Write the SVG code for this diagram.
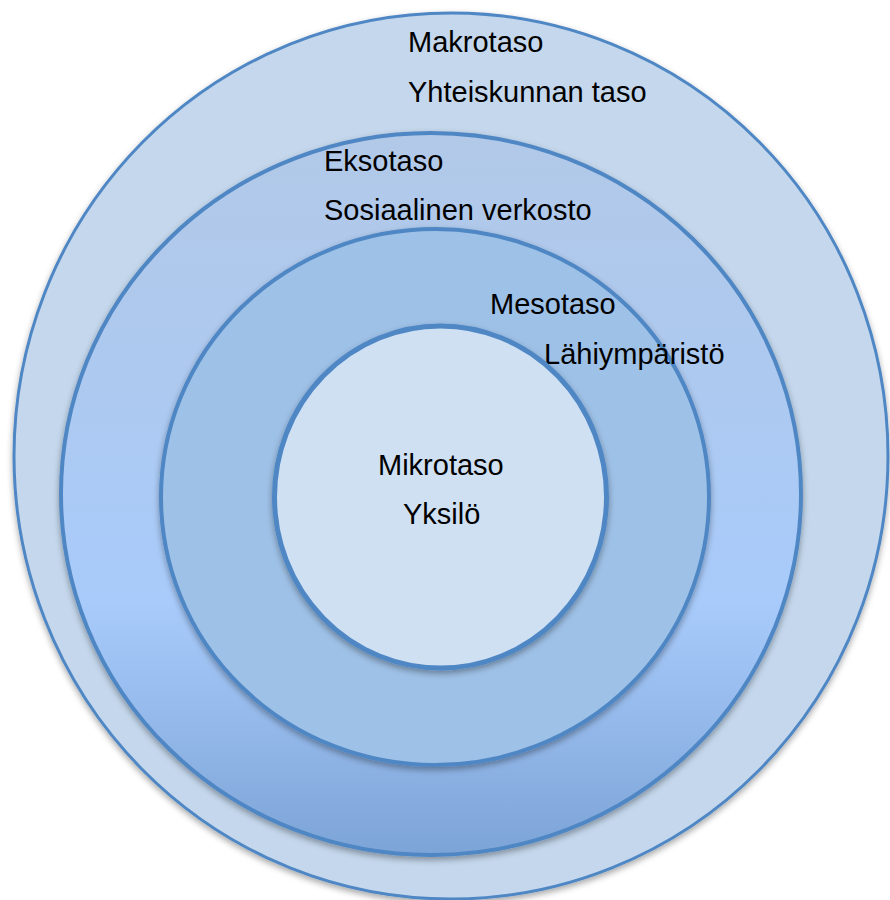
<svg xmlns="http://www.w3.org/2000/svg" width="890" height="900" viewBox="0 0 890 900">
  <defs>
    <linearGradient id="ekso" x1="0" y1="0" x2="0" y2="1">
      <stop offset="0" stop-color="#B2C9E8"/>
      <stop offset="0.35" stop-color="#ADC9F0"/>
      <stop offset="0.65" stop-color="#A8CBFB"/>
      <stop offset="1" stop-color="#7DA4D7"/>
    </linearGradient>
    <filter id="sh" x="-10%" y="-10%" width="120%" height="125%">
      <feDropShadow dx="0" dy="3" stdDeviation="3" flood-color="#000" flood-opacity="0.35"/>
    </filter>
    <style>
      .ring { stroke: #4F87C5; filter: url(#sh); }
      .lbl { font-family: "Liberation Sans", Arial, sans-serif; font-size: 29px; fill: #000; }
    </style>
  </defs>
  <rect width="890" height="900" fill="#FFFFFF"/>
  <g id="makrotaso">
    <ellipse class="ring" cx="451" cy="456" rx="437" ry="443" fill="#C4D7EC" stroke-width="3"/>
    <text class="lbl" x="408" y="52">Makrotaso</text>
    <text class="lbl" x="408" y="102">Yhteiskunnan taso</text>
  </g>
  <g id="eksotaso">
    <ellipse class="ring" cx="431" cy="494" rx="370" ry="361" fill="url(#ekso)" stroke-width="4"/>
    <text class="lbl" x="324" y="171">Eksotaso</text>
    <text class="lbl" x="324" y="220">Sosiaalinen verkosto</text>
  </g>
  <g id="mesotaso">
    <ellipse class="ring" cx="435" cy="497" rx="274" ry="268" fill="#9EC1E7" stroke-width="4"/>
    <text class="lbl" x="490" y="314">Mesotaso</text>
    <text class="lbl" x="544" y="364">Lähiympäristö</text>
  </g>
  <g id="mikrotaso">
    <ellipse class="ring" cx="440.5" cy="497" rx="166" ry="171" fill="#CFE0F3" stroke-width="5"/>
    <text class="lbl" x="378" y="475">Mikrotaso</text>
    <text class="lbl" x="403" y="524">Yksilö</text>
  </g>
  <g id="connectors"/>
</svg>
